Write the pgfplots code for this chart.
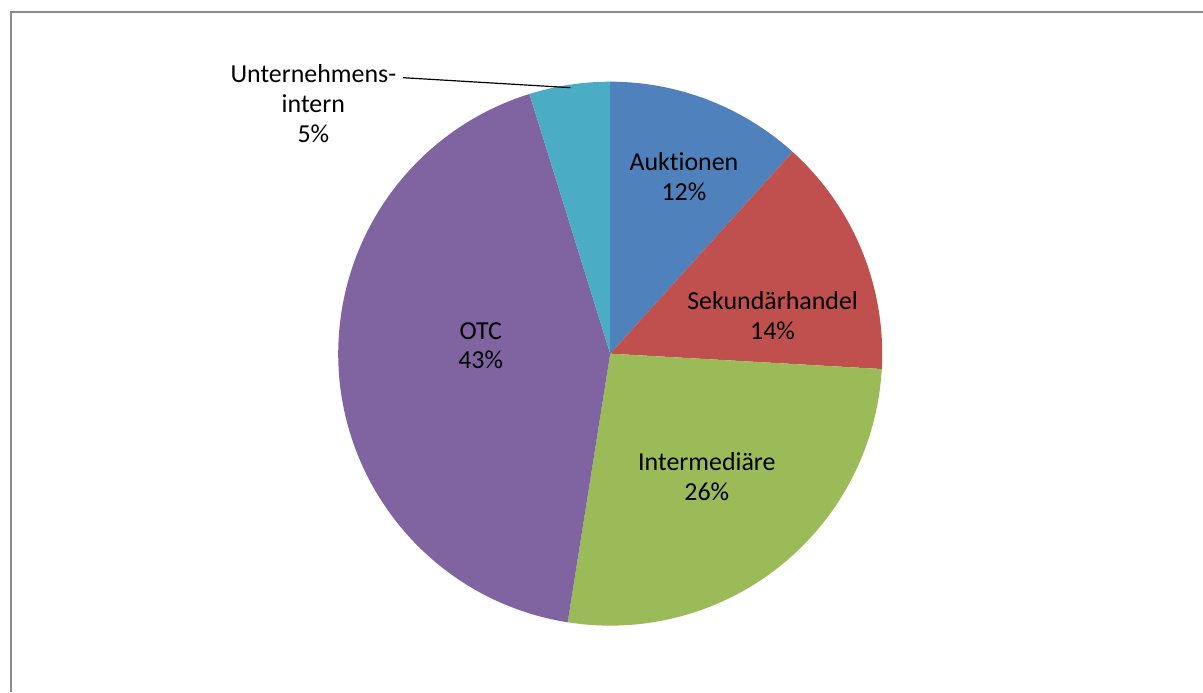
\documentclass[border=0pt]{standalone}
\usepackage{pgfplots}
\usepackage{pgfplotstable}
\pgfplotsset{compat=1.18}
\usepackage{fontspec}
\setmainfont{Carlito}[Ligatures={NoCommon}]

\definecolor{pieA}{HTML}{4F81BD}
\definecolor{pieB}{HTML}{C0504D}
\definecolor{pieC}{HTML}{9BBB59}
\definecolor{pieD}{HTML}{8064A2}
\definecolor{pieE}{HTML}{4BACC6}
\definecolor{frame}{HTML}{8C8C8C}

\pgfplotstableread{
idx value color
0 11.7 pieA
1 14.2 pieB
2 26.6 pieC
3 42.7 pieD
4 4.8 pieE
}\piedata

\begin{document}
\def\pieCum{0}
\pgfplotsforeachungrouped \i in {0,...,4}{%
  \pgfplotstablegetelem{\i}{value}\of\piedata
  \let\pieVal\pgfplotsretval
  \pgfmathsetmacro\pieS{90-3.6*\pieCum}%
  \pgfmathsetmacro\pieE{90-3.6*(\pieCum+\pieVal)}%
  \pgfmathsetmacro\pieX{608+273*cos(\pieS)}%
  \pgfmathsetmacro\pieY{340+273*sin(\pieS)}%
  \pgfmathsetmacro\pieNew{\pieCum+\pieVal}%
  \global\let\pieCum\pieNew
  \expandafter\xdef\csname pieSA\i\endcsname{\pieS}%
  \expandafter\xdef\csname pieEA\i\endcsname{\pieE}%
  \expandafter\xdef\csname pieSX\i\endcsname{\pieX}%
  \expandafter\xdef\csname pieSY\i\endcsname{\pieY}%
  \pgfplotstablegetelem{\i}{color}\of\piedata
  \expandafter\xdef\csname pieC\i\endcsname{\pgfplotsretval}%
}%
\begin{tikzpicture}
\begin{axis}[
  hide axis, scale only axis,
  width=601.5pt, height=347.5pt,
  xmin=0, xmax=1203, ymin=0, ymax=695,
  clip=false,
]
\path (axis cs:0,0) rectangle (axis cs:1203,695);
\pgfplotsinvokeforeach{0,...,4}{
  \fill[fill=\csname pieC#1\endcsname] (axis cs:608,340) -- (axis cs:\csname pieSX#1\endcsname,\csname pieSY#1\endcsname)
    arc[start angle=\csname pieSA#1\endcsname, end angle=\csname pieEA#1\endcsname, radius=136.5pt] -- cycle;
}
\addplot[black, line width=0.6pt] coordinates {(400,617) (568,607)};
\draw[frame, line width=1pt] (axis cs:7,0) -- (axis cs:7,683) -- (axis cs:1203,683);
\begin{scope}[every node/.style={align=center, font=\fontsize{13}{15}\selectfont, inner sep=0pt}]
\node at (axis cs:682,518) {Auktionen\\12\%};
\node at (axis cs:771,378) {Sekundärhandel\\14\%};
\node at (axis cs:705,217) {Intermediäre\\26\%};
\node at (axis cs:478,348) {OTC\\43\%};
\node at (axis cs:310,591) {Unternehmens-\\intern\\5\%};
\end{scope}
\end{axis}
\pgfresetboundingbox
\useasboundingbox (0,0) rectangle (601.5pt,347.5pt);
\end{tikzpicture}
\end{document}
